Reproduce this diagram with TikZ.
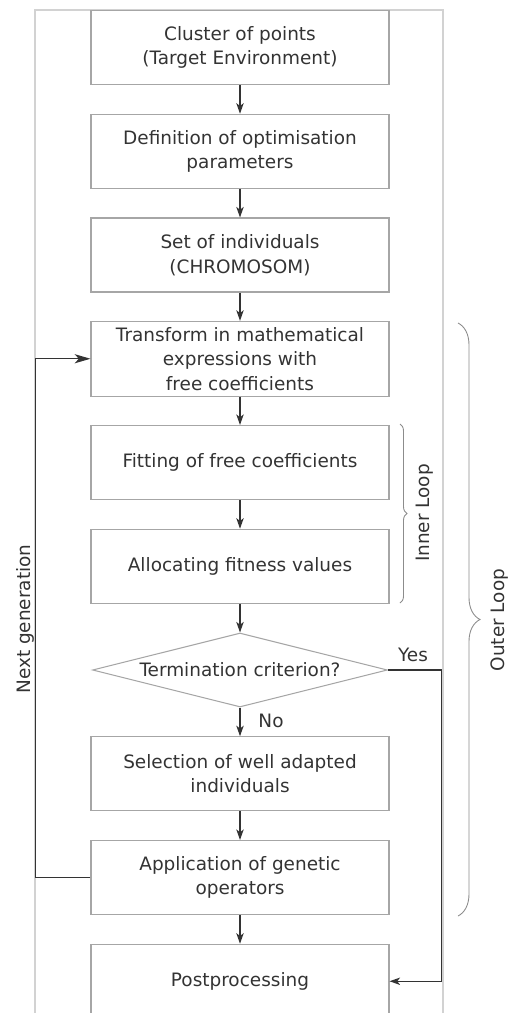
\documentclass[tikz,border=0pt]{standalone}
\usepackage{fontspec}
\setmainfont{DejaVu Sans}
\usepackage{tikz}
\usetikzlibrary{arrows.meta, shapes.geometric, decorations.pathreplacing}

\definecolor{boxgray}{HTML}{A6A6A6}
\definecolor{linegray}{HTML}{333333}
\definecolor{textgray}{HTML}{333333}
\definecolor{framegray}{HTML}{D2D2D2}
\definecolor{bracegray}{HTML}{8C8C8C}

\begin{document}
\begin{tikzpicture}[
        box/.style={draw=boxgray, line width=0.6pt, minimum width=5.96cm, minimum height=1.48cm,
            align=center, text=textgray, font=\fontsize{10.5}{13.9}\selectfont},
        decision/.style={diamond, draw=boxgray, line width=0.6pt, aspect=3.99, inner sep=0pt,
            minimum width=5.9cm, minimum height=1.48cm, text=textgray, font=\fontsize{10.5}{13.9}\selectfont},
        flow/.style={draw=linegray, line width=0.75pt, -{Stealth[length=6pt, width=4.2pt, inset=1.6pt]}},
        lbl/.style={text=textgray, font=\fontsize{10.5}{13.9}\selectfont},
        loopbrace/.style={draw=bracegray, line width=0.5pt, decorate}
    ]
        \useasboundingbox (0, 0) rectangle (10.16, -20.26);
        \clip (0, 0) rectangle (10.16, -20.26);

        % frame
        \draw[framegray, line width=0.6pt] (0.70, -0.20) rectangle (8.86, -21);

        % steps
        \node[box] (cluster) at (4.8, -0.95) {Cluster of points\\(Target Environment)};
        \node[box] (defn) at (4.8, -3.025) {Definition of optimisation\\parameters};
        \node[box] (indiv) at (4.8, -5.10) {Set of individuals\\(CHROMOSOM)};
        \node[box] (trans) at (4.8, -7.175) {Transform in mathematical\\expressions with\\free coefficients};
        \node[box] (fit) at (4.8, -9.25) {Fitting of free coefficients};
        \node[box] (alloc) at (4.8, -11.325) {Allocating fitness values};
        \node[decision] (term) at (4.8, -13.40) {Termination criterion?};
        \node[box] (select) at (4.8, -15.475) {Selection of well adapted\\individuals};
        \node[box] (appl) at (4.8, -17.55) {Application of genetic\\operators};
        \node[box] (post) at (4.8, -19.625) {Postprocessing};

        % main flow
        \draw[flow] (cluster) -- (defn);
        \draw[flow] (defn) -- (indiv);
        \draw[flow] (indiv) -- (trans);
        \draw[flow] (trans) -- (fit);
        \draw[flow] (fit) -- (alloc);
        \draw[flow] (alloc) -- (term);
        \draw[flow] (term) -- (select);
        \draw[flow] (select) -- (appl);
        \draw[flow] (appl) -- (post);

        % branches
        \draw[flow, -{Stealth[length=9pt, width=5.2pt, inset=2.4pt]}] (appl.west) -- ++(-1.10, 0) |- (trans.west);
        \draw[flow] (term.east) -- ++(1.07, 0) |- (post.east);

        \node[lbl] (yes) at (8.26, -13.10) {Yes};
        \node[lbl] (no) at (5.42, -14.42) {No};
        \node[lbl, rotate=90] (nextgen) at (0.50, -12.38) {Next generation};

        % loops
        \draw[loopbrace, decoration={brace, amplitude=0.14cm}] (8.0, -8.48) -- (8.0, -12.06);
        \node[lbl, rotate=90] (inner) at (8.50, -10.26) {Inner Loop};
        \draw[loopbrace, decoration={brace, amplitude=0.44cm}] (9.16, -6.46) -- (9.16, -18.32);
        \node[lbl, rotate=90] (outer) at (10.0, -12.40) {Outer Loop};
    \end{tikzpicture}
\end{document}
